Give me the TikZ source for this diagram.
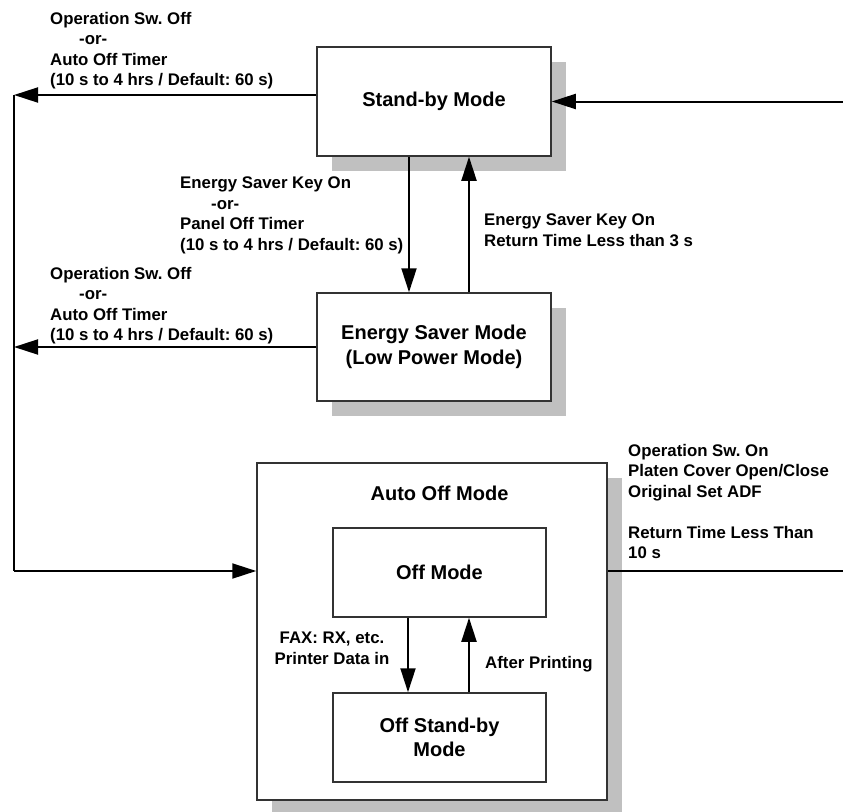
\documentclass[tikz,border=0pt]{standalone}
\usepackage{fontspec}
\setmainfont{Liberation Sans}
\frenchspacing
\usetikzlibrary{arrows.meta,shadows}
\definecolor{shade}{HTML}{C0C0C0}
\definecolor{frame}{HTML}{333333}
\tikzset{
  lbl/.style={inner sep=0pt, font=\fontsize{16.8}{20.5}\selectfont\bfseries},
  modebox/.style={draw=frame, line width=1.5pt, fill=white, inner sep=0pt,
    align=center, font=\fontsize{20}{24.5}\selectfont\bfseries},
  shadowed/.style={drop shadow={shadow xshift=15pt, shadow yshift=-15pt,
    fill=shade, opacity=1}},
  flow/.style={line width=2pt, -{Triangle[length=24pt, width=15pt]}},
  plain/.style={line width=2pt},
}
\begin{document}
\begin{tikzpicture}[x=1pt, y=-1pt]
\clip (0,0) rectangle (843,811);

% mode boxes
\node[modebox, shadowed, minimum width=234pt, minimum height=109pt] (standby) at (434,101.5) {Stand-by Mode};
\node[modebox, shadowed, minimum width=234pt, minimum height=108pt] (saver) at (434,347) {Energy Saver Mode\\(Low Power Mode)};
\node[modebox, shadowed, minimum width=350pt, minimum height=337pt] (autooff) at (432,631.5) {};
\node[lbl, font=\fontsize{20}{24.5}\selectfont\bfseries] (autotitle) at (439.5,493) {Auto Off Mode};
\node[modebox, minimum width=213pt, minimum height=89pt] (offmode) at (439.5,572.5) {Off Mode};
\node[modebox, minimum width=213pt, minimum height=89pt] (offstb) at (439.5,737.5) {Off Stand-by\\Mode};

% loose ends of the return paths
\coordinate (lt) at (14,95);
\coordinate (lb) at (14,571);
\coordinate (rt) at (843,101.5);
\coordinate (rb) at (843,571);

% connectors
\draw[flow] ([yshift=6.5pt]standby.west) -- (lt);
\draw[flow] (saver.west) -- (saver.west -| lt);
\draw[plain] (lt) -- (lb);
\draw[flow] (lb) -- (lb -| autooff.west);
\draw[flow] (rt) -- (standby.east);
\draw[plain] (autooff.east |- rb) -- (rb);
\draw[flow] ([xshift=-25pt]standby.south) -- ([xshift=-25pt]saver.north);
\draw[flow] ([xshift=35pt]saver.north) -- ([xshift=35pt]standby.south);
\draw[flow] ([xshift=-31.5pt]offmode.south) -- ([xshift=-31.5pt]offstb.north);
\draw[flow] ([xshift=29.5pt]offstb.north) -- ([xshift=29.5pt]offmode.south);

% transition labels
\node[lbl, anchor=north west, align=left] (offA) at (50,12)
  {Operation Sw. Off\\\hspace*{29pt}-or-\\Auto Off Timer\\(10 s to 4 hrs / Default: 60 s)};
\node[lbl, anchor=north west, align=left] (offB) at (50,267)
  {Operation Sw. Off\\\hspace*{29pt}-or-\\Auto Off Timer\\(10 s to 4 hrs / Default: 60 s)};
\node[lbl, anchor=north west, align=left] (toSaver) at (180,177)
  {Energy Saver Key On\\\hspace*{31pt}-or-\\Panel Off Timer\\(10 s to 4 hrs / Default: 60 s)};
\node[lbl, anchor=north west, align=left] (toStandby) at (484,214)
  {Energy Saver Key On\\Return Time Less than 3 s};
\node[lbl, anchor=north west, align=left] (wake) at (628,444)
  {Operation Sw. On\\Platen Cover Open/Close\\Original Set ADF\\[20.5pt]Return Time Less Than\\10 s};
\node[lbl, anchor=north, align=center] (fax) at (332,632)
  {FAX: RX, etc.\\Printer Data in};
\node[lbl, anchor=base west] (printed) at (485,668) {After Printing};
\end{tikzpicture}
\end{document}
